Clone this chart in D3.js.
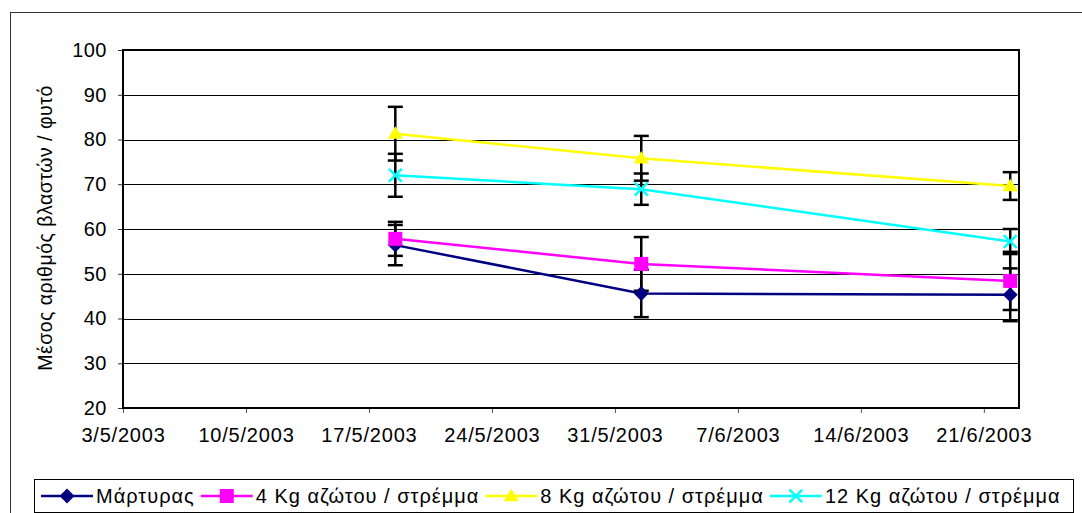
<!DOCTYPE html>
<html>
<head>
<meta charset="utf-8">
<script src="https://cdn.jsdelivr.net/npm/d3@7"></script>
<style>
  body { margin: 0; background: #fff; }
  svg text { font-family: "Liberation Sans", Arial, sans-serif; fill: #000; }
</style>
</head>
<body>
<svg id="chart" width="1082" height="513"></svg>
<script>
// Sampling dates and the mean shoot count per plant (± error) for each nitrogen dose
const sampleDates = ["2003-05-18", "2003-06-01", "2003-06-22"];
const seriesNames = ["Μάρτυρας", "4 Kg αζώτου / στρέμμα", "8 Kg αζώτου / στρέμμα", "12 Kg αζώτου / στρέμμα"];
const controlValues = [56.4, 45.6, 45.3];
const controlErrors = [4.5, 5.3, 5.9];
const kg4Values = [57.8, 52.2, 48.4];
const kg4Errors = [3.8, 6.0, 6.5];
const kg8Values = [81.3, 75.8, 69.6];
const kg8Errors = [6.0, 5.0, 3.1];
const kg12Values = [72.0, 68.9, 57.2];
const kg12Errors = [4.8, 3.5, 2.8];
const yTicks = [20, 30, 40, 50, 60, 70, 80, 90, 100];
const xTickLabels = ["3/5/2003", "10/5/2003", "17/5/2003", "24/5/2003", "31/5/2003", "7/6/2003", "14/6/2003", "21/6/2003"];
const xDomain = ["2003-05-03", "2003-06-23"];
const yTitle = "Μέσος αριθμός βλαστών / φυτό";

const parseISO = d3.timeParse("%Y-%m-%d");
const parseLabel = d3.timeParse("%d/%m/%Y");
const formatLabel = d3.timeFormat("%-d/%-m/%Y");

const colors = ["#000080", "#FF00FF", "#FFFF00", "#00FFFF"];
const markers = ["diamond", "square", "triangle", "cross"];
const valueSets = [controlValues, kg4Values, kg8Values, kg12Values];
const errorSets = [controlErrors, kg4Errors, kg8Errors, kg12Errors];

const series = seriesNames.map((name, i) => ({
  name, color: colors[i], marker: markers[i],
  points: sampleDates.map((d, j) => ({ date: parseISO(d), value: valueSets[i][j], err: errorSets[i][j] }))
}));

const svg = d3.select("#chart");
const plot = { left: 123, top: 50, right: 1019, bottom: 408 };

const x = d3.scaleTime().domain(xDomain.map(parseISO)).range([plot.left, plot.right]);
const y = d3.scaleLinear().domain([20, 100]).range([plot.bottom, plot.top]);
// each day occupies one slot on the date axis; values sit in the middle of their day
const px = d => x(d3.timeHour.offset(d, 12));

// outer chart frame
svg.append("rect").attr("x", 10.5).attr("y", 12.5).attr("width", 1200).attr("height", 700)
  .attr("fill", "none").attr("stroke", "#333").attr("stroke-width", 1);

// horizontal gridlines
svg.append("g").selectAll("line").data(yTicks.filter(t => t > 20 && t < 100)).join("line")
  .attr("x1", plot.left).attr("x2", plot.right)
  .attr("y1", d => Math.round(y(d)) + 0.5).attr("y2", d => Math.round(y(d)) + 0.5)
  .attr("stroke", "#000").attr("stroke-width", 1);

// axes
const yAxis = d3.axisLeft(y).tickValues(yTicks).tickSize(5).tickPadding(11).tickFormat(d3.format("d"));
const gy = svg.append("g").attr("transform", `translate(${plot.left},0)`).call(yAxis);
gy.select(".domain").remove();
gy.selectAll(".tick line").attr("stroke", "#333");
gy.selectAll("text").attr("font-size", 20).attr("letter-spacing", "0.5px");

const xAxis = d3.axisBottom(x).tickValues(xTickLabels.map(parseLabel)).tickSize(5).tickPadding(15).tickFormat(formatLabel);
const gx = svg.append("g").attr("transform", `translate(0,${plot.bottom})`).call(xAxis);
gx.select(".domain").remove();
gx.selectAll(".tick line").attr("stroke", "#555");
gx.selectAll("text").attr("font-size", 20).attr("letter-spacing", "0.8px");

// plot area border
svg.append("rect").attr("x", plot.left).attr("y", plot.top)
  .attr("width", plot.right - plot.left).attr("height", plot.bottom - plot.top)
  .attr("fill", "none").attr("stroke", "#000").attr("stroke-width", 2);

// y-axis title
svg.append("text").attr("transform", `translate(52,228) rotate(-90)`)
  .attr("text-anchor", "middle").attr("font-size", 19.5).attr("letter-spacing", "0.5px").text(yTitle);

// series lines
const line = d3.line().x(d => px(d.date)).y(d => y(d.value));
svg.append("g").selectAll("path").data(series).join("path")
  .attr("d", s => line(s.points)).attr("fill", "none")
  .attr("stroke", s => s.color).attr("stroke-width", 2.5);

// error bars
const eb = svg.append("g").attr("stroke", "#000").attr("stroke-width", 2.5);
series.forEach(s => {
  s.points.forEach(p => {
    const cx = px(p.date), y0 = y(p.value - p.err), y1 = y(p.value + p.err);
    eb.append("line").attr("x1", cx).attr("x2", cx).attr("y1", y0).attr("y2", y1);
    [y0, y1].forEach(yy => eb.append("line").attr("x1", cx - 7.5).attr("x2", cx + 7.5).attr("y1", yy).attr("y2", yy));
  });
});

// marker drawing shared by the plot and the legend
function drawMarker(g, type, color, cx, cy) {
  if (type === "diamond") {
    g.append("path").attr("d", d3.symbol(d3.symbolSquare, 112)())
      .attr("transform", `translate(${cx},${cy}) rotate(45)`).attr("fill", color);
  } else if (type === "square") {
    g.append("path").attr("d", d3.symbol(d3.symbolSquare, 196)())
      .attr("transform", `translate(${cx},${cy})`).attr("fill", color);
  } else if (type === "triangle") {
    g.append("path").attr("d", d3.symbol(d3.symbolTriangle, 100)())
      .attr("transform", `translate(${cx},${cy + 1}) scale(1.0,0.95)`).attr("fill", color);
  } else {
    g.append("path").attr("d", d3.symbol(d3.symbolX, 110)())
      .attr("transform", `translate(${cx},${cy})`).attr("fill", "none")
      .attr("stroke", color).attr("stroke-width", 2.5);
  }
}

const mk = svg.append("g");
series.forEach(s => s.points.forEach(p => drawMarker(mk, s.marker, s.color, px(p.date), y(p.value))));

// legend
const legend = svg.append("g");
legend.append("rect").attr("x", 34.5).attr("y", 479.5).attr("width", 1039).attr("height", 33)
  .attr("fill", "#fff").attr("stroke", "#000").attr("stroke-width", 1);
let lx = 41;
const ly = 496;
series.forEach(s => {
  legend.append("line").attr("x1", lx).attr("x2", lx + 52).attr("y1", ly).attr("y2", ly)
    .attr("stroke", s.color).attr("stroke-width", 2.5);
  drawMarker(legend, s.marker, s.color, lx + 26, ly);
  const t = legend.append("text").attr("x", lx + 55).attr("y", ly).attr("dy", "0.35em")
    .attr("font-size", 20).attr("letter-spacing", "1px").text(s.name);
  lx += 55 + t.node().getComputedTextLength() + 6;
});
</script>
</body>
</html>
